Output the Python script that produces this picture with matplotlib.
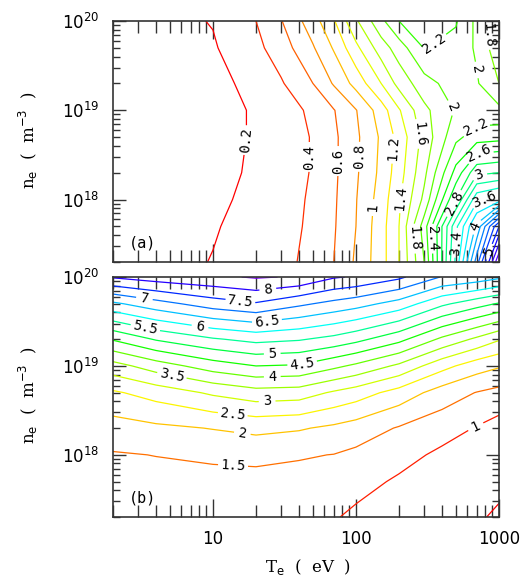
import numpy as np
import matplotlib
matplotlib.use('Agg')
import matplotlib.pyplot as plt
from matplotlib.ticker import FixedLocator, FixedFormatter

# electron temperature grid (eV) and density grid (m^-3)
te_a = [2, 5, 10, 20, 30, 50, 70, 100, 150, 200, 300, 500, 700, 1000]
te_b = [2, 4, 10, 20, 40, 70, 100, 200, 400, 700, 1000]
ne = [2e17, 5e17, 1e18, 2e18, 5e18, 1e19, 2e19, 5e19, 1e20]

# panel (a) values, one row per density (low -> high)
za = [
    [0.07, 0.13, 0.21, 0.31, 0.36, 0.44, 0.60, 0.83, 1.12, 1.40, 2.00, 3.45, 4.50, 5.80],
    [0.06, 0.10, 0.18, 0.29, 0.36, 0.42, 0.58, 0.80, 1.12, 1.40, 2.10, 3.35, 4.05, 5.00],
    [0.06, 0.10, 0.15, 0.26, 0.34, 0.42, 0.57, 0.79, 1.09, 1.37, 1.85, 2.80, 3.55, 3.70],
    [0.07, 0.10, 0.14, 0.23, 0.33, 0.41, 0.56, 0.77, 1.05, 1.31, 1.75, 2.47, 2.95, 3.00],
    [0.07, 0.10, 0.13, 0.22, 0.32, 0.41, 0.56, 0.76, 1.03, 1.27, 1.67, 2.15, 2.30, 2.33],
    [0.07, 0.10, 0.13, 0.22, 0.33, 0.43, 0.59, 0.79, 1.10, 1.38, 1.75, 2.02, 2.06, 2.05],
    [0.08, 0.12, 0.14, 0.26, 0.38, 0.60, 0.82, 1.07, 1.40, 1.67, 1.92, 2.10, 2.02, 1.80],
    [0.10, 0.14, 0.18, 0.35, 0.50, 0.78, 1.02, 1.35, 1.70, 1.90, 2.21, 2.13, 1.97, 1.66],
    [0.10, 0.15, 0.21, 0.40, 0.59, 0.91, 1.18, 1.57, 1.95, 2.20, 2.30, 2.22, 1.95, 1.62],
]

# panel (b) values, one row per density (low -> high)
zb = [
    [1.20, 1.20, 1.15, 1.15, 1.12, 1.04, 0.90, 0.72, 0.62, 0.54, 0.45],
    [1.32, 1.35, 1.30, 1.30, 1.35, 1.25, 1.17, 0.93, 0.75, 0.66, 0.58],
    [1.46, 1.51, 1.61, 1.66, 1.54, 1.49, 1.39, 1.17, 0.90, 0.80, 0.70],
    [1.78, 1.90, 2.02, 2.12, 2.05, 1.90, 1.77, 1.46, 1.20, 0.97, 0.80],
    [2.43, 2.70, 3.08, 3.30, 3.25, 2.93, 2.75, 2.30, 1.77, 1.48, 1.35],
    [3.30, 3.75, 4.25, 4.50, 4.45, 4.12, 3.90, 3.40, 2.67, 2.23, 2.05],
    [4.55, 5.05, 5.45, 5.65, 5.55, 5.35, 5.15, 4.65, 3.90, 3.40, 3.05],
    [6.40, 6.80, 7.25, 7.45, 7.10, 6.85, 6.70, 6.30, 5.60, 5.20, 4.95],
    [8.05, 8.25, 8.40, 8.55, 8.45, 8.05, 7.95, 7.60, 6.97, 6.80, 6.60],
]

levels_a = np.round(np.arange(1, 30) * 0.2, 1)
levels_b = np.round(np.arange(1, 18) * 0.5, 1)

# where the contour labels sit (T, n)
labels_a = [(17.6, 4.6e18), (48.7, 3.0e18), (78, 2.7e18), (115, 3.0e18), (137, 8.1e17),
            (189, 3.7e18), (212, 1.03e18), (284, 5.5e18), (249, 3.65e17), (333, 3.65e17),
            (476, 9.2e17), (483, 3.3e17), (668, 5.1e17), (860, 2.6e17), (724, 3.1e18),
            (724, 1.86e18), (785, 1.05e18), (668, 6.8e18), (476, 1.08e19), (668, 2.8e19),
            (373, 5e19), (840, 7e19)]
labels_b = [(3.33, 6e19), (15.5, 5.1e19), (24.3, 6.8e19), (3.4, 2.9e19), (8.1, 2.7e19),
            (23.9, 3.1e19), (26, 1.33e19), (42.2, 1.03e19), (26, 7.5e18), (5.2, 8.3e18),
            (23.9, 4.2e18), (13.8, 3e18), (16, 1.68e18), (13.8, 7.3e17), (668, 2.3e18)]

fig = plt.figure(figsize=(5.26, 5.80), dpi=100)
ax_a = fig.add_axes([0.2148, 0.5483, 0.7338, 0.4155])
ax_b = fig.add_axes([0.2148, 0.1086, 0.7338, 0.4138])


def fmt(v):
    return f'{v:g}'


def draw(ax, te, z, levels, hue, spots, tag):
    X = np.log10(te)
    Y = np.log10(ne)
    colors = [plt.cm.hsv(h) for h in hue]
    cs = ax.contour(X, Y, np.array(z), levels=levels, colors=colors, linewidths=0.9)
    manual = [(np.log10(t), np.log10(n)) for t, n in spots]
    ax.clabel(cs, inline=True, fmt=fmt, fontsize=10, colors='black',
              manual=manual, inline_spacing=4)
    for t in cs.labelTexts:
        t.set_family('DejaVu Sans Mono')
    ax.set_xlim(np.log10(2), 3)
    ax.set_ylim(np.log10(2e17), 20)
    ax.text(0.04, 0.08, tag, transform=ax.transAxes, fontsize=11,
            family='DejaVu Sans Mono', va='center')

    xmin = [np.log10(m * 10.0 ** k) for k in range(0, 3) for m in range(2, 10)
            if 2 <= m * 10 ** k < 1000]
    ymin = [np.log10(m * 10.0 ** k) for k in range(17, 20) for m in range(2, 10)
            if 2e17 <= m * 10.0 ** k < 1e20]
    ax.xaxis.set_major_locator(FixedLocator([1, 2, 3]))
    ax.xaxis.set_minor_locator(FixedLocator(xmin))
    ax.yaxis.set_major_locator(FixedLocator([18, 19, 20]))
    ax.yaxis.set_minor_locator(FixedLocator(ymin))
    ax.yaxis.set_major_formatter(FixedFormatter(['$10^{18}$', '$10^{19}$', '$10^{20}$']))
    ax.tick_params(axis='both', which='both', direction='in', top=True, right=True,
                   width=1.0, color='#333333')
    ax.tick_params(axis='x', which='major', length=13)
    ax.tick_params(axis='x', which='minor', length=8.5)
    ax.tick_params(axis='y', which='major', length=9.5, labelsize=12, pad=10)
    ax.tick_params(axis='y', which='minor', length=5)
    for s in ax.spines.values():
        s.set_linewidth(1.2)
        s.set_color('#333333')


# line colour runs red -> yellow -> green -> cyan -> blue -> violet
hue_a = np.interp(levels_a, [0.2, 1.2, 2.0, 3.6, 5.0, 5.8], [0, 0.16, 0.28, 0.5, 0.66, 0.76])
hue_b = np.interp(levels_b, [0.5, 1, 2, 3, 4, 5, 6, 7, 8, 8.5],
                  [0, 0.02, 0.13, 0.2, 0.27, 0.38, 0.5, 0.6, 0.7, 0.76])

draw(ax_a, te_a, za, levels_a, hue_a, labels_a, '(a)')
draw(ax_b, te_b, zb, levels_b, hue_b, labels_b, '(b)')

ax_a.xaxis.set_major_formatter(FixedFormatter(['', '', '']))
ax_b.xaxis.set_major_formatter(FixedFormatter(['10', '100', '1000']))
ax_b.tick_params(axis='x', which='major', labelsize=12, pad=9)

ylab = r'n$_{\rm e}$  (  m$^{-3}$  )'
fig.text(0.055, 0.758, ylab, rotation=90, ha='center', va='center',
         fontsize=12, family='DejaVu Serif')
fig.text(0.055, 0.318, ylab, rotation=90, ha='center', va='center',
         fontsize=12, family='DejaVu Serif')
fig.text(0.585, 0.013, r'T$_{\rm e}$  (  eV  )', ha='center', va='baseline',
         fontsize=12, family='DejaVu Serif')

fig.savefig('out.png', dpi=100)
